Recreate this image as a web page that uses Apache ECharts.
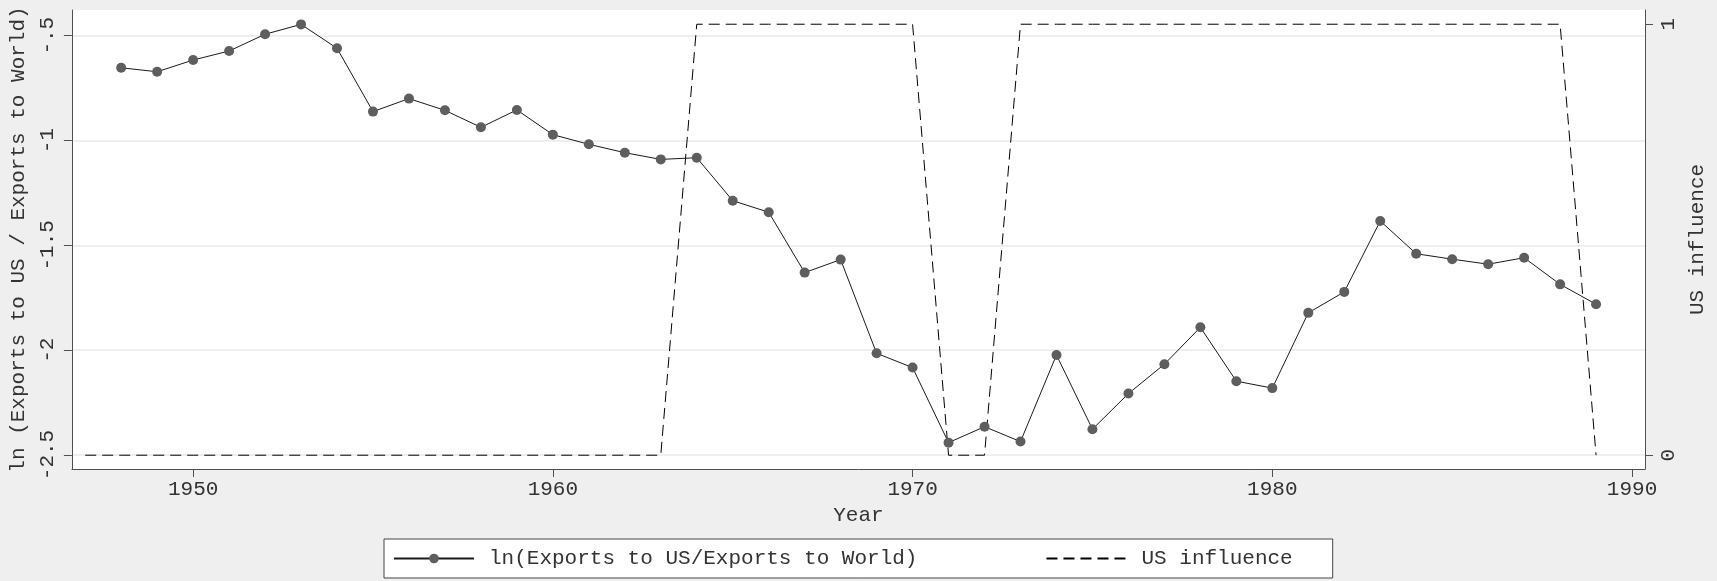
<!DOCTYPE html>
<html>
<head>
<meta charset="utf-8">
<script src="https://cdn.jsdelivr.net/npm/echarts@6/dist/echarts.min.js"></script>
<style>
  html, body { margin: 0; padding: 0; background: #efefef; }
  #chart { width: 1717px; height: 581px; }
</style>
</head>
<body>
<div id="chart"></div>
<script>
// ln(Exports to US / Exports to World), yearly
const exportYears = [1948, 1949, 1950, 1951, 1952, 1953, 1954, 1955, 1956, 1957,
  1958, 1959, 1960, 1961, 1962, 1963, 1964, 1965, 1966, 1967,
  1968, 1969, 1970, 1971, 1972, 1973, 1974, 1975, 1976, 1977,
  1978, 1979, 1980, 1981, 1982, 1983, 1984, 1985, 1986, 1987,
  1988, 1989];
const exportValues = [-0.653, -0.672, -0.616, -0.573, -0.493, -0.446, -0.560, -0.862, -0.800, -0.856,
  -0.937, -0.854, -0.972, -1.018, -1.058, -1.090, -1.082, -1.287, -1.342, -1.630,
  -1.568, -2.015, -2.083, -2.441, -2.365, -2.436, -2.023, -2.377, -2.207, -2.067,
  -1.891, -2.148, -2.181, -1.822, -1.722, -1.384, -1.540, -1.566, -1.590, -1.559,
  -1.686, -1.781];

// US influence indicator (0/1), yearly
const influenceYears = [1947, 1948, 1949, 1950, 1951, 1952, 1953, 1954, 1955, 1956,
  1957, 1958, 1959, 1960, 1961, 1962, 1963, 1964, 1965, 1966,
  1967, 1968, 1969, 1970, 1971, 1972, 1973, 1974, 1975, 1976,
  1977, 1978, 1979, 1980, 1981, 1982, 1983, 1984, 1985, 1986,
  1987, 1988, 1989];
const influenceValues = [0, 0, 0, 0, 0, 0, 0, 0, 0, 0,
  0, 0, 0, 0, 0, 0, 0, 1, 1, 1,
  1, 1, 1, 1, 0, 0, 1, 1, 1, 1,
  1, 1, 1, 1, 1, 1, 1, 1, 1, 1,
  1, 1, 0];

const xTicks = [1950, 1960, 1970, 1980, 1990];
const leftTicks = [-2.5, -2, -1.5, -1, -0.5];
const rightTicks = [0, 1];

const exportName = 'ln(Exports to US/Exports to World)';
const influenceName = 'US influence';

const FONT = '"Liberation Mono", "DejaVu Sans Mono", monospace';
const FS = 21;
const TEXT = '#333333';
const AXIS = '#505050';

const pairs = (xs, ys) => xs.map((x, i) => [x, ys[i]]);

const chart = echarts.init(document.getElementById('chart'), null, { renderer: 'canvas' });

chart.setOption({
  backgroundColor: '#efefef',
  animation: false,
  grid: {
    left: 71, right: 72, top: 10, bottom: 112,
    show: true, backgroundColor: '#ffffff', borderWidth: 0
  },
  legend: {
    left: 384, top: 539,
    padding: [9, 40, 9, 9],
    itemWidth: 80, itemHeight: 12, itemGap: 128,
    backgroundColor: '#ffffff', borderColor: '#444444', borderWidth: 1, borderRadius: 0,
    textStyle: { fontFamily: FONT, fontSize: FS, color: TEXT, padding: [0, 0, 0, 10] },
    data: [
      { name: exportName },
      { name: influenceName, itemStyle: { opacity: 0 } }
    ]
  },
  xAxis: {
    type: 'value', min: 1946.63, max: 1990.36,
    name: 'Year', nameLocation: 'middle', nameGap: 35,
    nameTextStyle: { fontFamily: FONT, fontSize: FS, color: TEXT },
    axisLine: { show: true, onZero: false, lineStyle: { color: AXIS, width: 1 } },
    axisTick: { show: true, length: 8, lineStyle: { color: AXIS }, customValues: xTicks },
    axisLabel: { fontFamily: FONT, fontSize: FS, color: TEXT, margin: 10, customValues: xTicks,
      formatter: v => String(v) },
    splitLine: { show: false }
  },
  yAxis: [
    {
      type: 'value', position: 'left', min: -2.5668, max: -0.3774,
      name: 'ln (Exports to US / Exports to World)', nameLocation: 'middle', nameGap: 33, nameRotate: 90,
      nameTextStyle: { fontFamily: FONT, fontSize: FS, color: TEXT },
      axisLine: { show: true, onZero: false, lineStyle: { color: AXIS, width: 1 } },
      axisTick: { show: true, length: 8, lineStyle: { color: AXIS }, customValues: leftTicks },
      axisLabel: { fontFamily: FONT, fontSize: FS, color: TEXT, margin: 14, rotate: 90, customValues: leftTicks,
        formatter: v => (v === -0.5 ? '-.5' : String(v)) },
      splitLine: { show: true, lineStyle: { color: '#eaeaea', width: 1.5 } }
    },
    {
      type: 'value', position: 'right', min: -0.032, max: 1.033,
      name: 'US influence', nameLocation: 'middle', nameGap: 32, nameRotate: 90,
      nameTextStyle: { fontFamily: FONT, fontSize: FS, color: TEXT },
      axisLine: { show: true, onZero: false, lineStyle: { color: AXIS, width: 1 } },
      axisTick: { show: true, length: 8, lineStyle: { color: AXIS }, customValues: rightTicks },
      axisLabel: { fontFamily: FONT, fontSize: FS, color: TEXT, margin: 13, rotate: 90, customValues: rightTicks },
      splitLine: { show: false }
    }
  ],
  series: [
    {
      name: exportName, type: 'line', yAxisIndex: 0,
      data: pairs(exportYears, exportValues),
      symbol: 'circle', symbolSize: 10, showAllSymbol: true,
      itemStyle: { color: '#5e5e5e' },
      lineStyle: { color: '#1a1a1a', width: 1 },
      z: 3
    },
    {
      name: influenceName, type: 'line', yAxisIndex: 1,
      data: pairs(influenceYears, influenceValues),
      symbol: 'none',
      itemStyle: { color: '#000000' },
      lineStyle: { color: '#000000', width: 1, type: [11, 6] },
      z: 2
    }
  ]
});
</script>
</body>
</html>
